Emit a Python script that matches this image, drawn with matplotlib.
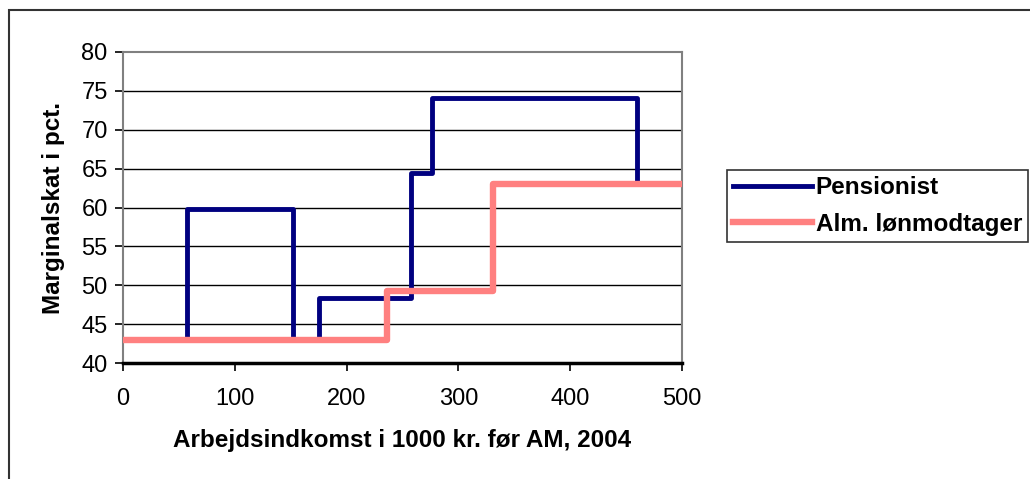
import matplotlib.pyplot as plt
from matplotlib.patches import Rectangle

plt.rcParams['font.family'] = ['Liberation Sans', 'DejaVu Sans']

# step data (income in 1000 kr., marginal tax in pct.)
pens_x = [0, 57, 57, 152, 152, 175, 175, 258, 258, 276, 276, 460, 460, 500]
pens_y = [42.9, 42.9, 59.8, 59.8, 42.9, 42.9, 48.4, 48.4, 64.4, 64.4, 74.1, 74.1, 63.0, 63.0]
alm_x = [0, 236, 236, 331, 331, 500]
alm_y = [42.9, 42.9, 49.3, 49.3, 63.0, 63.0]
xticks = [0, 100, 200, 300, 400, 500]
yticks = [40, 45, 50, 55, 60, 65, 70, 75, 80]

fig = plt.figure(figsize=(10.30, 4.79), dpi=100)
fig.patches.append(Rectangle((9 / 1030, -0.1), 1.2, 1.1 - 10 / 479, transform=fig.transFigure,
                             fill=False, edgecolor='#333333', linewidth=1.5))

ax = fig.add_axes([123 / 1030, 1 - 363 / 479, 559 / 1030, 311 / 479])
for y in yticks[1:-1]:
    ax.axhline(y, color='black', linewidth=1, zorder=1)

ax.plot(pens_x, pens_y, color='#000080', linewidth=3.5, label='Pensionist', zorder=3)
ax.plot(alm_x, alm_y, color='#FF8080', linewidth=4.6, label='Alm. lønmodtager', zorder=4)

ax.set_xlim(0, 500)
ax.set_ylim(40, 80)
ax.set_xticks(xticks)
ax.set_yticks(yticks)
ax.tick_params(axis='both', direction='out', length=6, width=1.2, labelsize=17, color='black')
ax.tick_params(axis='x', pad=12)
ax.tick_params(axis='y', pad=5)

for side in ['top', 'right', 'left']:
    ax.spines[side].set_color('#808080')
    ax.spines[side].set_linewidth(1.5)
ax.spines['bottom'].set_color('black')
ax.spines['bottom'].set_linewidth(2.5)

ax.set_xlabel('Arbejdsindkomst i 1000 kr. før AM, 2004', fontsize=17.5, fontweight='bold', labelpad=14)
ax.set_ylabel('Marginalskat i pct.', fontsize=17.5, fontweight='bold', labelpad=12)

leg = ax.legend(loc='center left', bbox_to_anchor=(727 / 1030, 1 - 206 / 479),
                bbox_transform=fig.transFigure, frameon=True, fancybox=False,
                edgecolor='black', prop={'size': 17.5, 'weight': 'bold'},
                handlelength=3.25, handletextpad=0.15, borderpad=0.25, labelspacing=0.55,
                borderaxespad=0)
leg.get_frame().set_linewidth(1.2)

fig.savefig('out.png', dpi=100)
